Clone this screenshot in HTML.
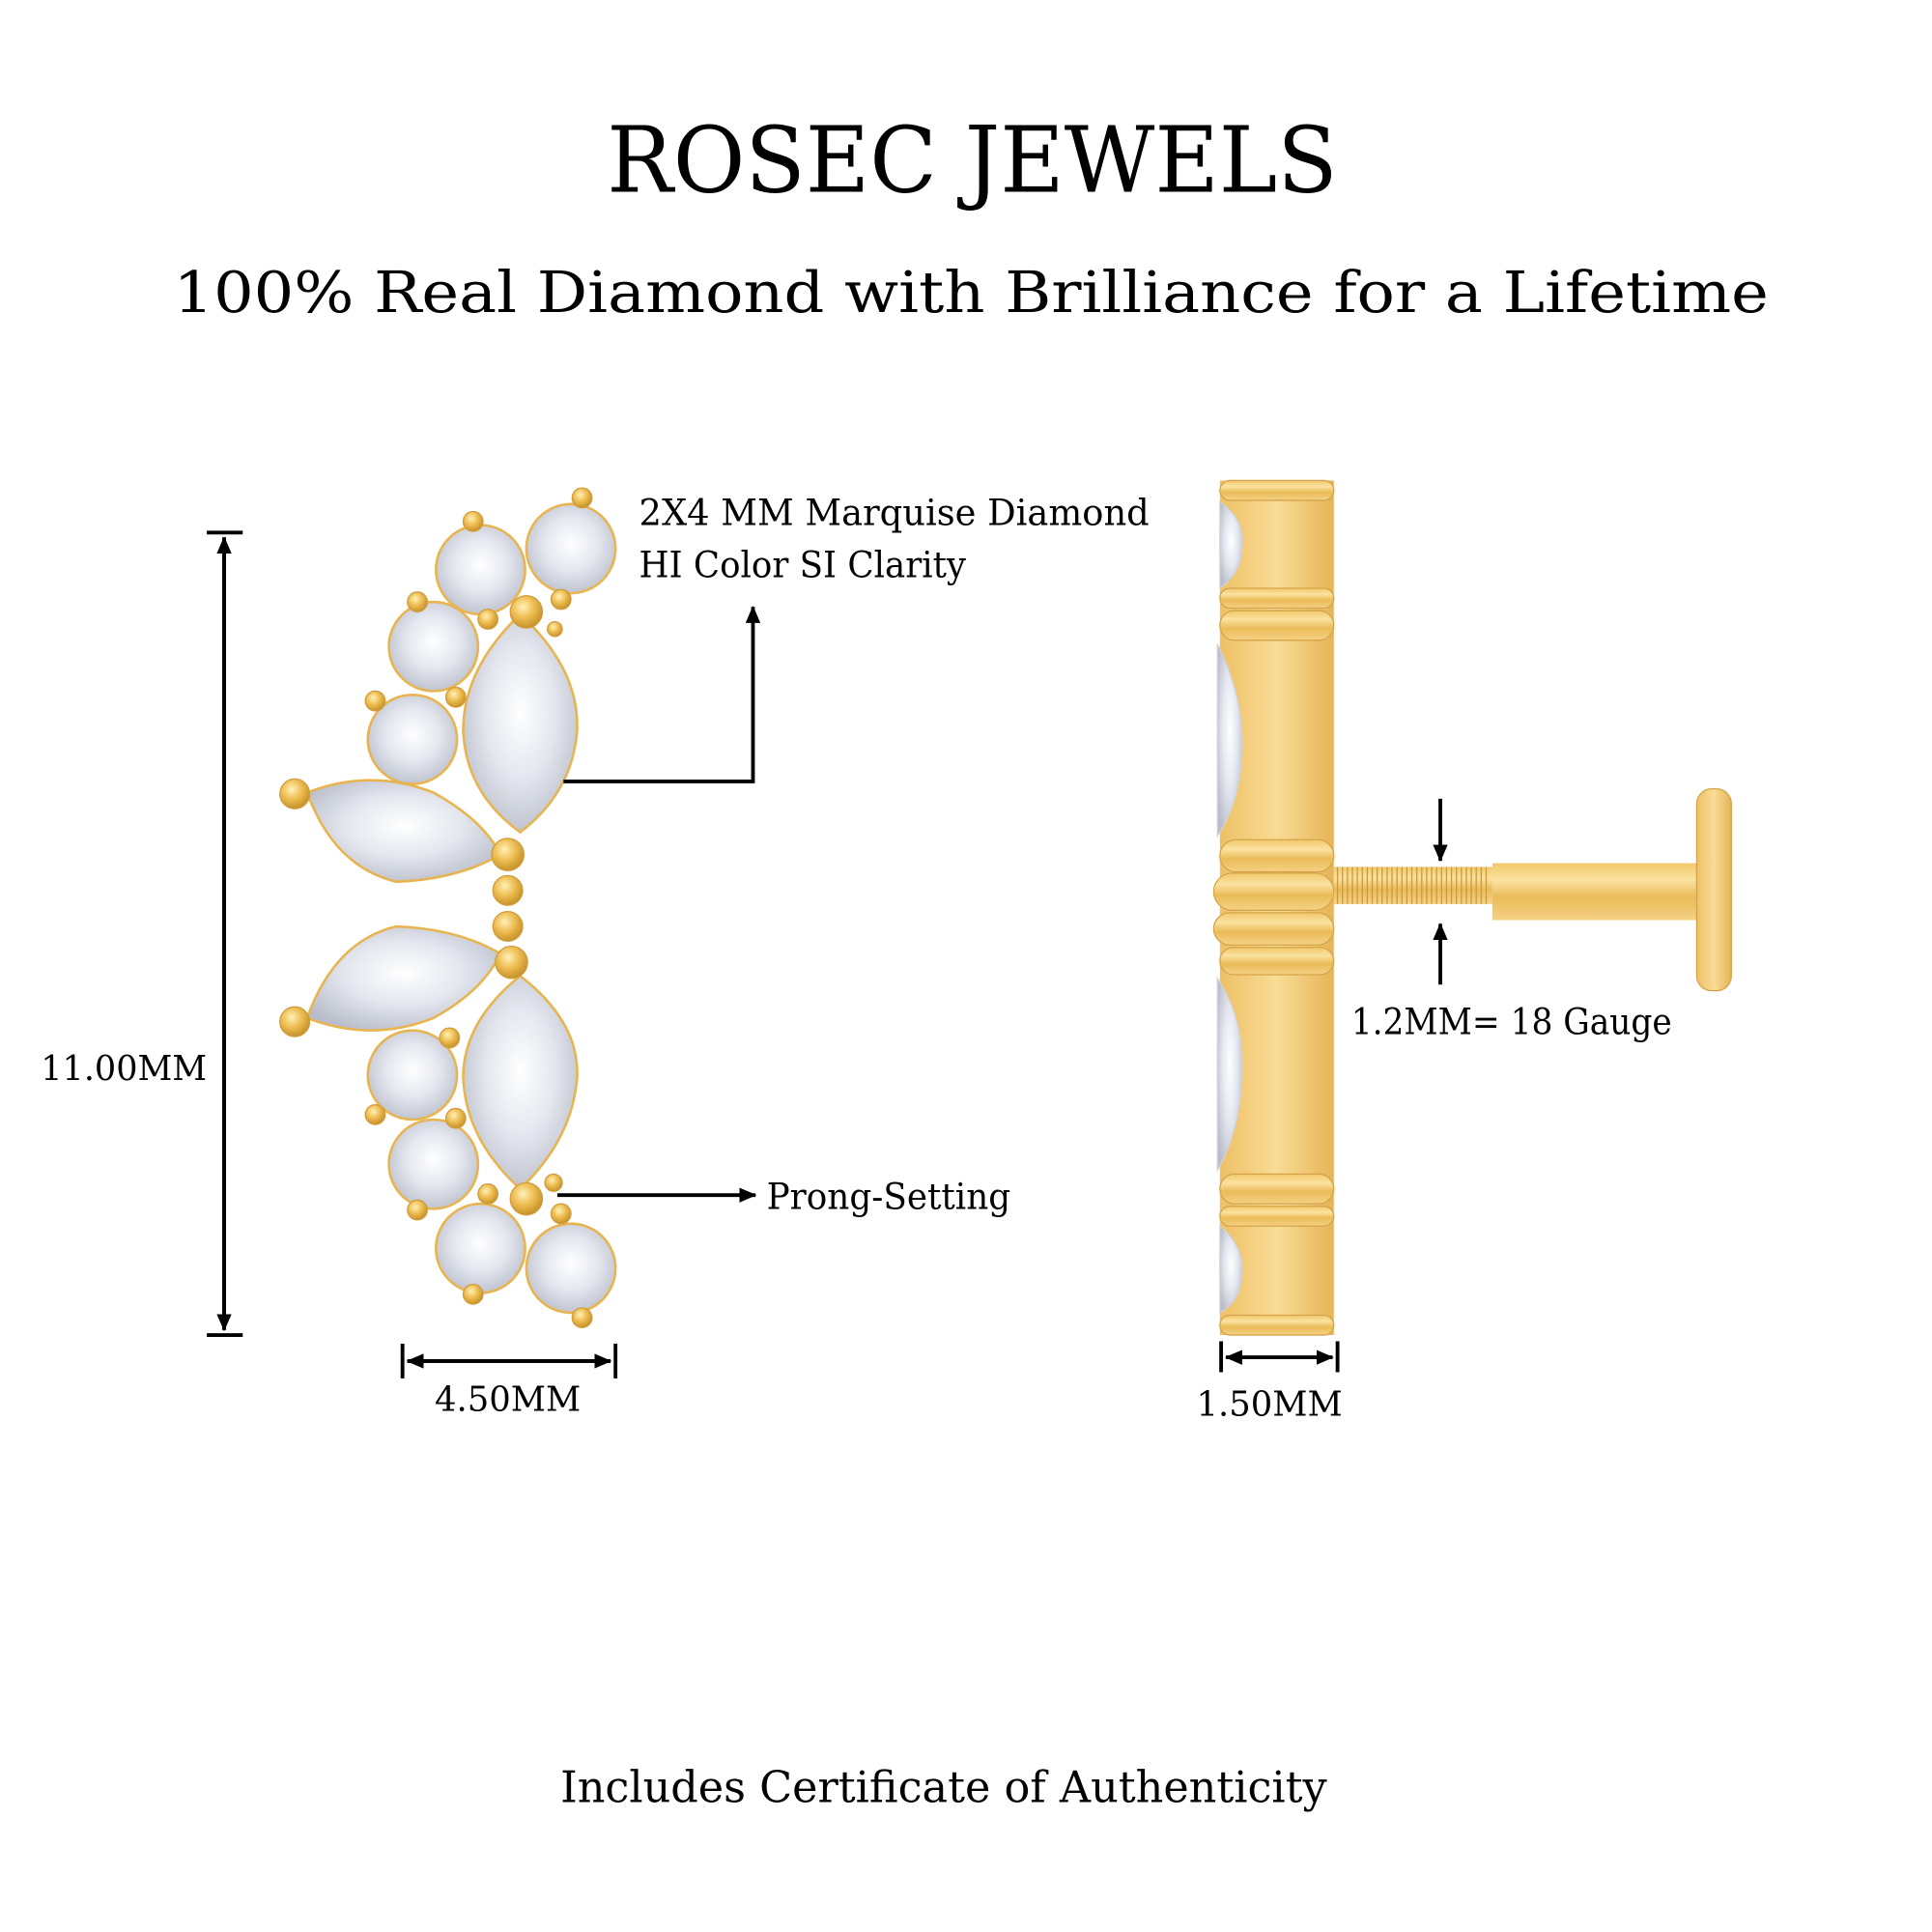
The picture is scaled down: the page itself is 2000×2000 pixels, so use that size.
<!DOCTYPE html>
<html><head><meta charset="utf-8"><style>
html,body{margin:0;padding:0;background:#fff;}
svg{display:block}
</style></head><body>
<svg width="2000" height="2000" viewBox="0 0 1560 1560" xmlns="http://www.w3.org/2000/svg" font-family="'DejaVu Serif','Liberation Serif',serif">
<defs>
<radialGradient id="dia" cx="50%" cy="45%" r="60%">
<stop offset="0" stop-color="#ffffff"/><stop offset="0.5" stop-color="#e4e7ef"/><stop offset="1" stop-color="#b9bdc9"/>
</radialGradient>
<radialGradient id="bead" cx="40%" cy="35%" r="65%">
<stop offset="0" stop-color="#fff1b8"/><stop offset="0.5" stop-color="#efbf55"/><stop offset="1" stop-color="#c8922b"/>
</radialGradient>
<linearGradient id="goldv" x1="0" y1="0" x2="0" y2="1">
<stop offset="0" stop-color="#f0c86a"/><stop offset="0.3" stop-color="#fbe2a0"/><stop offset="0.6" stop-color="#eabb58"/><stop offset="1" stop-color="#f5d285"/>
</linearGradient>
<linearGradient id="goldh" x1="0" y1="0" x2="1" y2="0">
<stop offset="0" stop-color="#eec066"/><stop offset="0.5" stop-color="#f9dc96"/><stop offset="1" stop-color="#e6b457"/>
</linearGradient>
<marker id="ah2" markerWidth="14" markerHeight="12" refX="13" refY="6" orient="auto" markerUnits="userSpaceOnUse">
<path d="M0,0 L14,6 L0,12 z" fill="#000"/></marker>
</defs>

<text x="785" y="155" font-size="74" text-anchor="middle" textLength="590" lengthAdjust="spacingAndGlyphs">ROSEC JEWELS</text>
<text x="784" y="252" font-size="46" text-anchor="middle" textLength="1288" lengthAdjust="spacingAndGlyphs">100% Real Diamond with Brilliance for a Lifetime</text>

<line x1="167" y1="430" x2="196" y2="430" stroke="#000" stroke-width="3"/>
<line x1="167" y1="1078" x2="196" y2="1078" stroke="#000" stroke-width="3"/>
<line x1="181" y1="1074" x2="181" y2="434" stroke="#000" stroke-width="3" marker-end="url(#ah2)"/>
<line x1="181" y1="434" x2="181" y2="1074" stroke="#000" stroke-width="3" marker-end="url(#ah2)"/>
<text x="33" y="872" font-size="28" textLength="134" lengthAdjust="spacingAndGlyphs">11.00MM</text>

<line x1="325" y1="1085" x2="325" y2="1113" stroke="#000" stroke-width="3"/>
<line x1="497" y1="1085" x2="497" y2="1113" stroke="#000" stroke-width="3"/>
<line x1="329" y1="1099" x2="493" y2="1099" stroke="#000" stroke-width="3" marker-end="url(#ah2)"/>
<line x1="493" y1="1099" x2="329" y2="1099" stroke="#000" stroke-width="3" marker-end="url(#ah2)"/>
<text x="410" y="1139" font-size="28" text-anchor="middle" textLength="118" lengthAdjust="spacingAndGlyphs">4.50MM</text>

<g stroke="#e8b44f" stroke-width="2">
<circle cx="388" cy="460" r="36" fill="url(#dia)"/>
<circle cx="461" cy="443" r="36" fill="url(#dia)"/>
<circle cx="350" cy="522" r="36" fill="url(#dia)"/>
<circle cx="333" cy="597" r="36" fill="url(#dia)"/>
<circle cx="333" cy="868" r="36" fill="url(#dia)"/>
<circle cx="350" cy="940" r="36" fill="url(#dia)"/>
<circle cx="388" cy="1008" r="36" fill="url(#dia)"/>
<circle cx="461" cy="1024" r="36" fill="url(#dia)"/>
<path d="M420,496 Q468,540 466,590 Q462,640 420,672 Q376,640 374,590 Q374,540 420,496 Z" fill="url(#dia)"/>
<path d="M420,788 Q468,825 466,870 Q462,920 420,960 Q376,920 374,870 Q374,825 420,788 Z" fill="url(#dia)"/>
<path d="M248,640 Q300,620 350,640 Q390,662 404,690 Q370,710 320,712 Q270,700 248,640 Z" fill="url(#dia)"/>
<path d="M248,822 Q300,842 350,822 Q390,800 404,770 Q370,750 320,748 Q270,760 248,822 Z" fill="url(#dia)"/>
</g>
<g fill="url(#bead)" stroke="#d19c3a" stroke-width="1">
<circle cx="410" cy="690" r="13"/><circle cx="410" cy="719" r="12"/><circle cx="410" cy="748" r="12"/><circle cx="413" cy="777" r="13"/>
<circle cx="425" cy="494" r="13"/><circle cx="425" cy="968" r="13"/>
<circle cx="238" cy="641" r="12"/><circle cx="238" cy="825" r="12"/>
<circle cx="382" cy="421" r="8"/><circle cx="470" cy="402" r="8"/><circle cx="337" cy="486" r="8"/><circle cx="303" cy="566" r="8"/>
<circle cx="394" cy="500" r="8"/><circle cx="368" cy="563" r="8"/><circle cx="453" cy="484" r="8"/><circle cx="448" cy="508" r="6"/>
<circle cx="363" cy="838" r="8"/><circle cx="303" cy="900" r="8"/><circle cx="368" cy="903" r="8"/><circle cx="337" cy="977" r="8"/>
<circle cx="394" cy="964" r="8"/><circle cx="453" cy="980" r="8"/><circle cx="382" cy="1045" r="8"/><circle cx="470" cy="1064" r="8"/><circle cx="447" cy="955" r="7"/>
</g>

<text x="516" y="424" font-size="29" textLength="412" lengthAdjust="spacingAndGlyphs">2X4 MM Marquise Diamond</text>
<text x="516" y="466" font-size="29" textLength="264" lengthAdjust="spacingAndGlyphs">HI Color SI Clarity</text>
<polyline points="455,631 608,631 608,490" fill="none" stroke="#000" stroke-width="3" marker-end="url(#ah2)"/>
<line x1="450" y1="965" x2="610" y2="965" stroke="#000" stroke-width="3" marker-end="url(#ah2)"/>
<text x="619" y="976" font-size="29" textLength="197" lengthAdjust="spacingAndGlyphs">Prong-Setting</text>

<rect x="985" y="388" width="92" height="690" fill="url(#goldh)"/>
<g fill="url(#dia)" stroke="#cfd3dc" stroke-width="1">
<path d="M985,405 Q1005,420 1003,440 Q1003,462 985,475 Z"/>
<path d="M983,520 Q1003,560 1003,600 Q1003,645 983,675 Z"/>
<path d="M983,790 Q1003,820 1003,860 Q1003,910 983,945 Z"/>
<path d="M985,990 Q1003,1005 1003,1025 Q1003,1050 985,1060 Z"/>
</g>
<g fill="url(#goldv)" stroke="#d5a44a" stroke-width="1">
<rect x="985" y="388" width="92" height="16" rx="8"/>
<rect x="985" y="475" width="92" height="16" rx="8"/>
<rect x="985" y="493" width="92" height="24" rx="12"/>
<rect x="985" y="678" width="92" height="26" rx="13"/>
<rect x="980" y="705" width="97" height="30" rx="15"/>
<rect x="980" y="737" width="97" height="26" rx="13"/>
<rect x="985" y="765" width="92" height="22" rx="11"/>
<rect x="985" y="948" width="92" height="24" rx="12"/>
<rect x="985" y="974" width="92" height="16" rx="8"/>
<rect x="985" y="1062" width="92" height="16" rx="8"/>
</g>
<rect x="1077" y="700" width="128" height="30" fill="url(#goldv)"/>
<g stroke="#c99a3f" stroke-width="1">
<path d="M1080,700 V730 M1084,700 V730 M1088,700 V730 M1092,700 V730 M1096,700 V730 M1100,700 V730 M1104,700 V730 M1108,700 V730 M1112,700 V730 M1116,700 V730 M1120,700 V730 M1124,700 V730 M1128,700 V730 M1132,700 V730 M1136,700 V730 M1140,700 V730 M1144,700 V730 M1148,700 V730 M1152,700 V730 M1156,700 V730 M1160,700 V730 M1164,700 V730 M1168,700 V730 M1172,700 V730 M1176,700 V730 M1180,700 V730 M1184,700 V730 M1188,700 V730 M1192,700 V730 M1196,700 V730 M1200,700 V730"/>
</g>
<rect x="1205" y="697" width="175" height="46" fill="url(#goldv)"/>
<rect x="1370" y="637" width="28" height="163" rx="12" fill="url(#goldh)" stroke="#d5a44a"/>
<line x1="1163" y1="645" x2="1163" y2="695" stroke="#000" stroke-width="3" marker-end="url(#ah2)"/>
<line x1="1163" y1="795" x2="1163" y2="746" stroke="#000" stroke-width="3" marker-end="url(#ah2)"/>
<text x="1091" y="835" font-size="29" textLength="259" lengthAdjust="spacingAndGlyphs">1.2MM= 18 Gauge</text>

<line x1="986" y1="1083" x2="986" y2="1108" stroke="#000" stroke-width="3"/>
<line x1="1080" y1="1083" x2="1080" y2="1108" stroke="#000" stroke-width="3"/>
<line x1="990" y1="1096" x2="1076" y2="1096" stroke="#000" stroke-width="3" marker-end="url(#ah2)"/>
<line x1="1076" y1="1096" x2="990" y2="1096" stroke="#000" stroke-width="3" marker-end="url(#ah2)"/>
<text x="1025" y="1143" font-size="28" text-anchor="middle" textLength="118" lengthAdjust="spacingAndGlyphs">1.50MM</text>

<text x="762" y="1455" font-size="35" text-anchor="middle" textLength="619" lengthAdjust="spacingAndGlyphs">Includes Certificate of Authenticity</text>
</svg>
</body></html>
